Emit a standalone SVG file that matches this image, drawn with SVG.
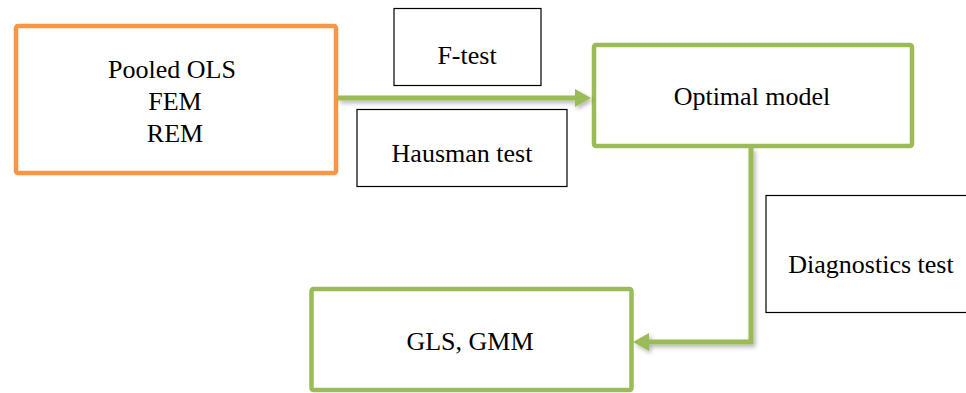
<svg xmlns="http://www.w3.org/2000/svg" width="966" height="393" viewBox="0 0 966 393">
<style>
text{font-family:"Liberation Serif","Times New Roman",serif;font-size:26px;fill:#000;text-anchor:middle}
.label rect{fill:#fff;stroke:#000;stroke-width:1.2}
.green{fill:#fff;stroke:#9BBB59;stroke-width:4.5}
.orange{fill:#fff;stroke:#F79646;stroke-width:4.5}
.conn{fill:none;stroke:#9BBB59;stroke-width:5}
</style>
<defs>
<marker id="arr" markerUnits="userSpaceOnUse" markerWidth="16" markerHeight="18" refX="3" refY="9" orient="auto">
<path d="M0,0 L16,9 L0,18 z" fill="#9BBB59"/>
</marker>
<filter id="sh" x="-10%" y="-10%" width="130%" height="150%">
<feDropShadow dx="2" dy="2.5" stdDeviation="2" flood-color="#000" flood-opacity="0.3"/>
</filter>
</defs>
<rect width="966" height="393" fill="#fff"/>
<g id="pooled">
<rect class="orange" x="16" y="26" width="320" height="147" rx="2"/>
<text x="172" y="78">Pooled OLS</text>
<text x="175" y="110">FEM</text>
<text x="175" y="142">REM</text>
</g>
<g id="ftest" class="label">
<rect x="394" y="8.5" width="147" height="77"/>
<text x="467" y="64">F-test</text>
</g>
<g id="hausman" class="label">
<rect x="357" y="109.5" width="210" height="77"/>
<text x="462" y="162">Hausman test</text>
</g>
<g id="optimal">
<rect class="green" x="594" y="45" width="318" height="101" rx="2"/>
<text x="752" y="105">Optimal model</text>
</g>
<g id="diagnostics" class="label">
<rect x="766" y="195.5" width="215" height="117"/>
<text x="871" y="273">Diagnostics test</text>
</g>
<g id="gls">
<rect class="green" x="311.5" y="289" width="320" height="101" rx="2"/>
<text x="470" y="350">GLS, GMM</text>
</g>
<g id="connectors" filter="url(#sh)">
<path class="conn" d="M338,98 L578,98" marker-end="url(#arr)"/>
<path class="conn" d="M751,148 L751,342 L646,342" marker-end="url(#arr)"/>
</g>
</svg>
